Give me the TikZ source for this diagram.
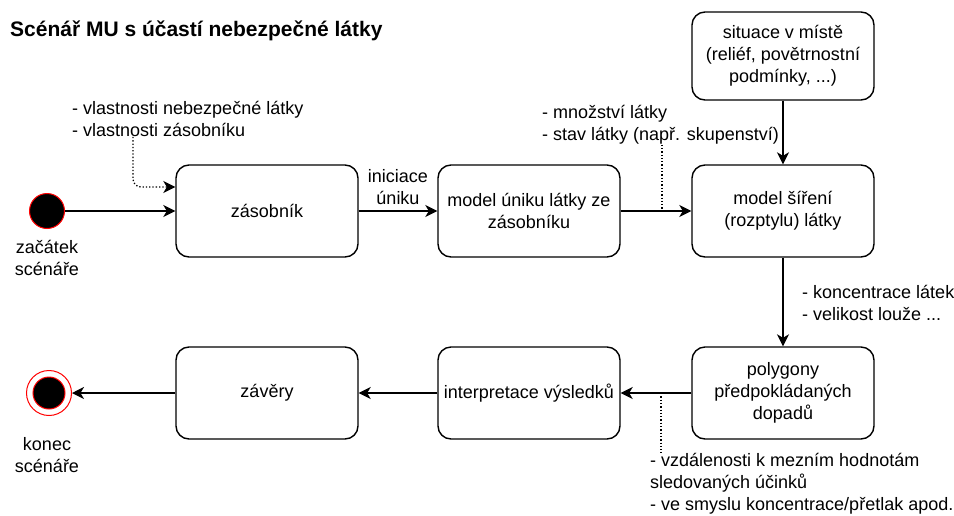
\documentclass[tikz,border=0pt]{standalone}
\usepackage{fontspec}
\setmainfont{Liberation Sans}
\usetikzlibrary{positioning, arrows.meta}

\begin{document}
\begin{tikzpicture}[x=1pt,y=1pt,on grid,auto,
    every node/.style={font=\fontsize{18}{22}\selectfont},
    box/.style={draw, rounded corners=13pt, minimum width=182pt, minimum height=92pt,
                align=center, line width=1.4pt},
    note/.style={align=left, inner sep=0pt},
    >={Stealth[length=12pt,width=12pt,inset=3.5pt]},
    flow/.style={->, line width=1.4pt},
    hint/.style={dotted, line width=1.3pt}]

    \useasboundingbox (0,0) rectangle (954,-515);

    \node[anchor=west, inner sep=0pt, font=\fontsize{21}{24}\selectfont\bfseries] (title) at (10,-31) {Scénář MU s účastí nebezpečné látky};

    \node[circle, fill=black, draw=red, line width=1pt, minimum size=35pt, inner sep=0pt] (q_start) at (47,-211) {};
    \node[align=center] (q_start_lbl) at (47,-258) {začátek\\scénáře};

    \node[box] (q_zas) at (267,-211) {zásobník};
    \node[box] (q_unik) [right=262pt of q_zas] {model úniku látky ze\\zásobníku};
    \node[box] (q_sireni) [right=254pt of q_unik] {model šíření\\(rozptylu) látky};
    \node[box, minimum height=88pt] (q_situace) [above=155pt of q_sireni] {situace v místě\\(reliéf, povětrnostní\\podmínky, ...)};
    \node[box] (q_poly) [below=182pt of q_sireni] {polygony\\předpokládaných\\dopadů};
    \node[box] (q_interp) [left=254pt of q_poly] {interpretace výsledků};
    \node[box] (q_zavery) [left=262pt of q_interp] {závěry};

    \node[circle, draw=red, line width=1pt, minimum size=45pt, inner sep=0pt] (q_end) at (49,-393) {};
    \node[circle, fill=black, draw=red, line width=1pt, minimum size=32pt, inner sep=0pt] (q_end_dot) at (q_end) {};
    \node[align=center] (q_end_lbl) at (47,-455) {konec\\scénáře};

    % poznamky
    \node[note, anchor=west] (n_zas) at (72,-119) {- vlastnosti nebezpečné látky\\- vlastnosti zásobníku};
    \node[note, anchor=west] (n_unik) at (542,-125) {- množství látky\\- stav látky (např. skupenství)};
    \node[note, anchor=west] (n_sireni) at (802,-303) {- koncentrace látek\\- velikost louže ...};
    \node[note, anchor=north west] (n_poly) at (650,-453) {- vzdálenosti k mezním hodnotám\\sledovaných účinků\\- ve smyslu koncentrace/přetlak apod.};

    \coordinate (c_zas) at ([xshift=61pt]n_zas.south west);
    \coordinate (c_unik) at ([xshift=120pt]n_unik.south west);
    \coordinate (c_poly) at ([xshift=11pt]n_poly.north west);

    \draw[flow] (q_start) -- (q_zas);
    \draw[flow] (q_zas) -- node[above, align=center, yshift=2pt] {iniciace\\úniku} (q_unik);
    \draw[flow] (q_unik) -- (q_sireni);
    \draw[flow] (q_situace) -- (q_sireni);
    \draw[flow] (q_sireni) -- (q_poly);
    \draw[flow] (q_poly) -- (q_interp);
    \draw[flow] (q_interp) -- (q_zavery);
    \draw[flow] (q_zavery) -- (q_end);

    \draw[hint, ->, rounded corners=8pt] (c_zas) |- ([yshift=24pt]q_zas.west);
    \draw[hint] (c_unik) -- (c_unik |- q_unik.east);
    \draw[hint] (c_poly |- q_poly.west) -- (c_poly);

\end{tikzpicture}
\end{document}
